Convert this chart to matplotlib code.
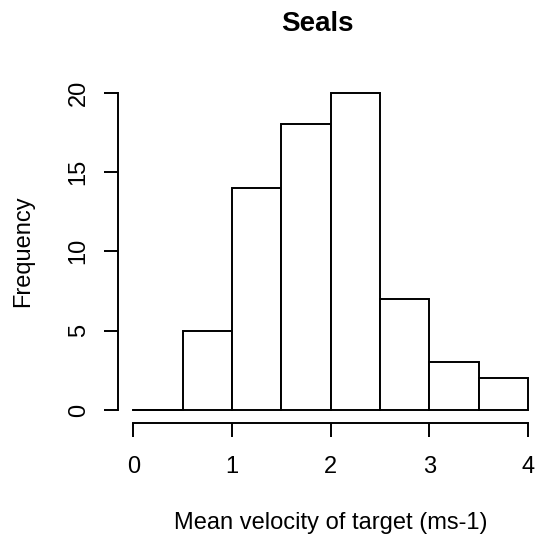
import matplotlib.pyplot as plt
import numpy as np

# Histogram bins (ms-1) and counts
bin_edges = [0.0, 0.5, 1.0, 1.5, 2.0, 2.5, 3.0, 3.5, 4.0]
counts = [0, 5, 14, 18, 20, 7, 3, 2]
x_ticks = [0, 1, 2, 3, 4]
y_ticks = [0, 5, 10, 15, 20]

plt.rcParams['font.family'] = ['Liberation Sans', 'DejaVu Sans']

fig = plt.figure(figsize=(5.45, 5.4), dpi=100)
ax = fig.add_axes([117.5 / 545, 1 - 422.7 / 540, 426.5 / 545, 342.7 / 540])

lw = 1.4
widths = np.diff(bin_edges)
ax.bar(bin_edges[:-1], counts, width=widths, align='edge',
       facecolor='white', edgecolor='black', linewidth=lw)
# zero-count bins still show as a line on the baseline, as R does
for left, w, c in zip(bin_edges[:-1], widths, counts):
    if c == 0:
        ax.plot([left, left + w], [0, 0], color='black', linewidth=lw)

ax.set_xlim(-0.16, 4.16)
ax.set_ylim(-0.8, 20.8)

for s in ['top', 'right']:
    ax.spines[s].set_visible(False)
ax.spines['left'].set_bounds(0, 20)
ax.spines['bottom'].set_bounds(0, 4)
ax.spines['left'].set_linewidth(lw)
ax.spines['bottom'].set_linewidth(lw)

ax.set_xticks(x_ticks)
ax.set_yticks(y_ticks)
ax.tick_params(axis='both', length=10, width=lw, labelsize=17)
ax.tick_params(axis='x', pad=14.3)
ax.tick_params(axis='y', pad=10, labelrotation=90)
for lab in ax.get_yticklabels():
    lab.set_va('center')

ax.set_xlabel('Mean velocity of target (ms-1)', fontsize=17, labelpad=24)
ax.set_ylabel('Frequency', fontsize=17, labelpad=24)
ax.set_title('Seals', fontsize=20, fontweight='bold', pad=35.5, x=0.468)

fig.savefig('out.png', dpi=100)
